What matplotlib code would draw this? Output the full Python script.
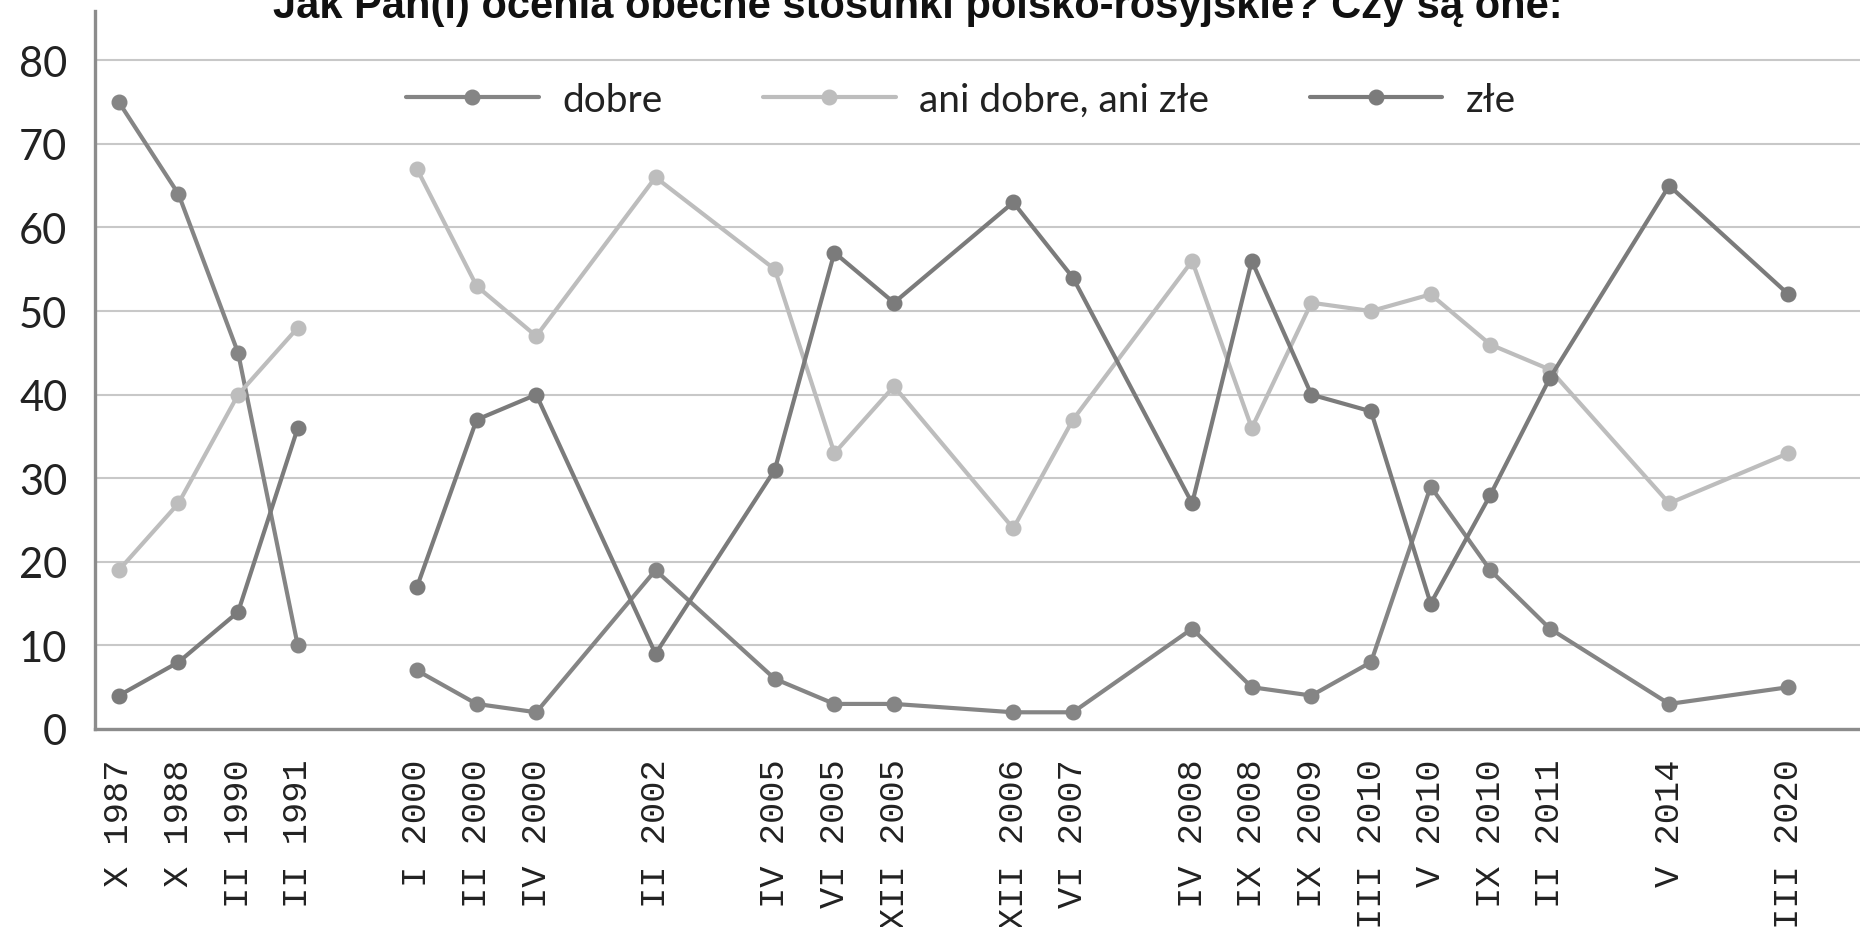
import numpy as np
import matplotlib
matplotlib.use("Agg")
import matplotlib.pyplot as plt

# Stosunki polsko-rosyjskie - wykres liniowy (CBOS)

# x axis categories ('' = empty slot between survey groups)
categories = ["X 1987", "X 1988", "II 1990", "II 1991", "",
              "I 2000", "II 2000", "IV 2000", "",
              "II 2002", "",
              "IV 2005", "VI 2005", "XII 2005", "",
              "XII 2006", "VI 2007", "",
              "IV 2008", "IX 2008", "IX 2009", "III 2010", "V 2010", "IX 2010", "II 2011", "",
              "V 2014", "",
              "III 2020"]

dobre = [75, 64, 45, 10,
         7, 3, 2, 19, 6, 3, 3, 2, 2, 12, 5, 4, 8, 29, 19, 12, 3, 5]
ani = [19, 27, 40, 48,
       67, 53, 47, 66, 55, 33, 41, 24, 37, 56, 36, 51, 50, 52, 46, 43, 27, 33]
zle = [4, 8, 14, 36,
       17, 37, 40, 9, 31, 57, 51, 63, 54, 27, 56, 40, 38, 15, 28, 42, 65, 52]

series_names = ["dobre", "ani dobre, ani złe", "złe"]
series_colors = ["#858585", "#bdbdbd", "#7b7b7b"]

# positions of the real surveys on the category axis
pos = np.array([i for i, c in enumerate(categories) if c != ""])
split = 4  # line is broken between 1991 and 2000

fig = plt.figure(figsize=(18.6, 9.28), dpi=100)
ax = fig.add_axes([95/1860, 1-730/928, 1-95/1860, (730-12)/928])

for vals, name, col in zip([dobre, ani, zle], series_names, series_colors):
    vals = np.array(vals, float)
    ax.plot(pos[:split], vals[:split], color=col, lw=3, marker="o", ms=10.5,
            solid_capstyle="round", label=name)
    ax.plot(pos[split:], vals[split:], color=col, lw=3, marker="o", ms=10.5,
            solid_capstyle="round")

ax.set_xlim(-0.4, 29.2)
ax.set_ylim(0, 85.9)
ax.set_yticks(np.arange(0, 81, 10))
ax.grid(axis="y", color="#c8c8c8", lw=1.5)
ax.set_axisbelow(True)

ax.set_xticks(range(len(categories)))
ax.set_xticklabels(categories, rotation=90, family="Liberation Mono",
                   fontsize=25.5, color="#222222")
ax.tick_params(axis="x", length=0, pad=21)
ax.tick_params(axis="y", length=0, pad=20, labelsize=30, labelcolor="#222222")
for lab in ax.get_yticklabels():
    lab.set_family("Lato")

for s in ["top", "right"]:
    ax.spines[s].set_visible(False)
for s in ["left", "bottom"]:
    ax.spines[s].set_color("#8c8c8c")
    ax.spines[s].set_linewidth(2.4)

fig.text(918/1860, 1-18/928, "Jak Pan(i) ocenia obecne stosunki polsko-rosyjskie? Czy są one:",
         ha="center", va="baseline", fontsize=30, fontweight="bold",
         family="Liberation Sans", color="#111111")

leg = fig.legend(loc="center", bbox_to_anchor=(961/1860, 1-101/928), ncol=3,
                 frameon=False, handlelength=3.4, handletextpad=0.6,
                 columnspacing=2.6, prop={"family": "Lato", "size": 28})
for t in leg.get_texts():
    t.set_color("#222222")

fig.savefig("out.png", dpi=100)
